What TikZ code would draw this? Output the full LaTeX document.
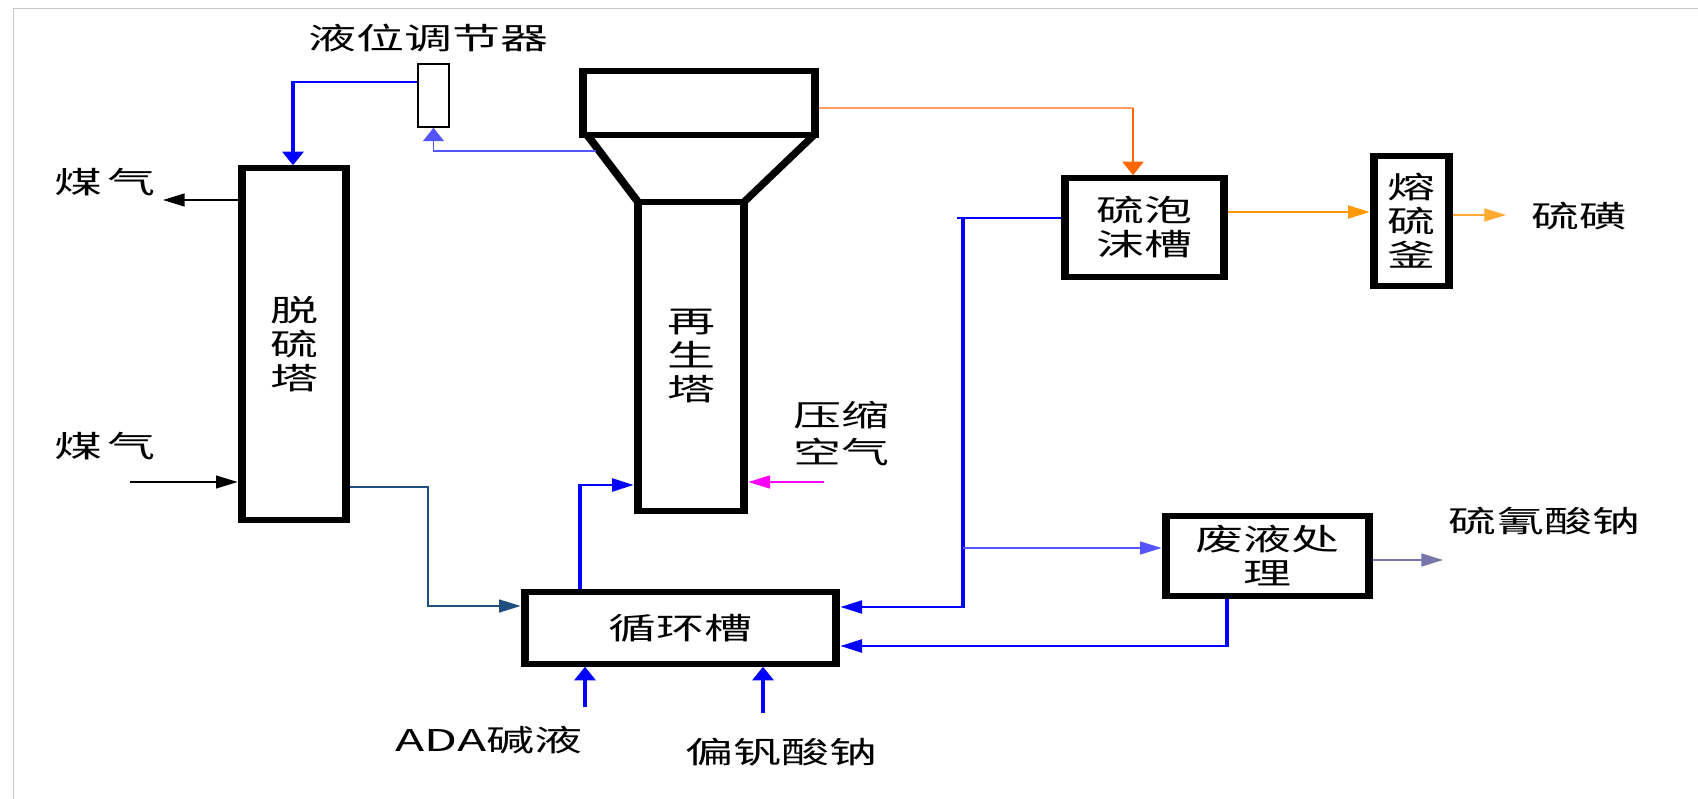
\documentclass[tikz,border=0pt]{standalone}
\usepackage{fontspec}
\newfontfamily\cjk{Noto Sans CJK SC}
\usetikzlibrary{arrows.meta,fit,calc}
\definecolor{framegray}{HTML}{C8C8C8}
\definecolor{pblue}{HTML}{0000FF}
\definecolor{lblue}{HTML}{5555FF}
\definecolor{navy}{HTML}{1F4E80}
\definecolor{lorange}{HTML}{FF9966}
\definecolor{dorange}{HTML}{FF6600}
\definecolor{morange}{HTML}{FF9900}
\definecolor{porange}{HTML}{FFAA33}
\definecolor{magentaline}{HTML}{FF00FF}
\definecolor{grayviolet}{HTML}{7777AA}
\tikzset{
  box/.style={draw=black, line width=5.5pt, inner sep=0pt},
  thinbox/.style={draw=black, line width=1.5pt, inner sep=0pt},
  lbl/.style={inner sep=0pt, align=center, font=\cjk\fontsize{30pt}{37pt}\selectfont},
  boxtxt/.style={inner sep=0pt, align=center, font=\cjk\fontsize{30pt}{34pt}\selectfont},
  arr/.style={-{Triangle[length=13.5pt,width=13pt]}},
  conline/.style={line width=2pt},
}
\begin{document}
\begin{tikzpicture}
\useasboundingbox (0,0) rectangle (1698pt,-799pt);
\fill[white] (0,0) rectangle (1698pt,-799pt);
\draw[framegray, line width=1.5pt] (13.5pt,-799pt) -- (13.5pt,-8.5pt) -- (1698pt,-8.5pt);
\begin{scope}[transform canvas={xscale=1.6}, x=0.625pt, y=-1pt]
  % equipment
  \node[box, fit={(242,168) (346,520)}, label={[boxtxt]center:脱\\硫\\塔}] (tuo) {};
  \node[thinbox, fit={(418,64) (449,127)}] (reg) {};
  \node[box, fit={(525,592) (836,664)}, label={[boxtxt]center:循环槽}] (xun) {};
  \node[box, fit={(583,71) (815,135)}] (zaitop) {};
  \node[box, fit={(638,202) (744,511)}, label={[boxtxt]center:再\\生\\塔}] (zai) {};
  \draw[line width=5.5pt, line join=miter] (588,136) -- (638,202);
  \draw[line width=5.5pt, line join=miter] (813,136) -- (744,202);
  \node[box, fit={(1065,178) (1224,277)}, label={[boxtxt]center:硫泡\\沫槽}] (pao) {};
  \node[box, fit={(1374,156) (1449,286)}, label={[boxtxt]center:熔\\硫\\釜}] (rong) {};
  \node[box, fit={(1166,516) (1369,596)}, label={[boxtxt]center:废液处\\理}] (fei) {};

  % labels
  \node[lbl] (lreg) at (428,38) {液位调节器};
  \node[lbl] (lgasout) at (105,182) {煤\hspace{3pt}气};
  \node[lbl] (lgasin) at (105,446) {煤\hspace{3pt}气};
  \node[lbl] (lair) at (841,434) {压缩\\空气};
  \node[lbl] (lada) at (489,740) {ADA碱液};
  \node[lbl] (lvan) at (781,752) {偏钒酸钠};
  \node[lbl] (lsul) at (1579,216) {硫磺};
  \node[lbl] (lthio) at (1544,521) {硫氰酸钠};

  % free ends and bends
  \coordinate (gasoutE) at (163,200);
  \coordinate (gasinS) at (130,482);
  \coordinate (coneL) at (596,151);
  \coordinate (airS) at (824,482);
  \coordinate (sulE) at (1506,215);
  \coordinate (thioE) at (1443,560);
  \coordinate (adaS) at (585,707);
  \coordinate (vanS) at (763,713);

  % regulator -> desulfurizer
  \draw[conline, pblue, arr] (reg.west |- 0,82) -- (293,82) -- (293,0 |- tuo.north);
  % regenerator cone -> regulator
  \draw[line width=1.2pt, lblue, arr] (coneL) -| (reg.south);
  % gas
  \draw[line width=1.2pt, black, arr] (tuo.west |- gasoutE) -- (gasoutE);
  \draw[line width=1.2pt, black, arr] (gasinS) -- (tuo.west |- gasinS);
  % desulfurizer -> circulation tank
  \draw[line width=1.6pt, navy, arr] (tuo.east |- 0,487) -- (428,487) -- (428,606) -- (xun.west |- 0,606);
  % circulation tank -> regenerator
  \draw[line width=2.5pt, pblue, arr] (580,0 |- xun.north) -- (580,485) -- (zai.west |- 0,485);
  % compressed air
  \draw[line width=1.5pt, magentaline, arr] (airS) -- (zai.east |- airS);
  % regenerator top -> sulfur foam tank
  \draw[line width=1.5pt, lorange] (zaitop.east |- 0,108) -- (1133,108);
  \draw[line width=1.5pt, dorange, arr] (1133,108) -- (1133,0 |- pao.north);
  % foam -> melter -> sulfur
  \draw[line width=2pt, morange, arr] (pao.east |- 0,212) -- (rong.west |- 0,212);
  \draw[line width=1.5pt, porange, arr] (rong.east |- sulE) -- (sulE);
  % foam tank -> circulation tank
  \draw[conline, pblue] (pao.west |- 0,218) -- (957,218);
  \draw[conline, pblue, arr] (963,218) -- (963,607) -- (xun.east |- 0,607);
  \draw[line width=1.5pt, lblue, arr] (963,548) -- (fei.west |- 0,548);
  % waste -> circulation tank
  \draw[line width=2.5pt, pblue, arr] (1227,0 |- fei.south) -- (1227,646) -- (xun.east |- 0,646);
  % waste -> thiocyanate
  \draw[line width=1.8pt, grayviolet, arr] (fei.east |- thioE) -- (thioE);
  % feeds
  \draw[conline, pblue, arr] (adaS) -- (adaS |- xun.south);
  \draw[conline, pblue, arr] (vanS) -- (vanS |- xun.south);
\end{scope}
\end{tikzpicture}
\end{document}
